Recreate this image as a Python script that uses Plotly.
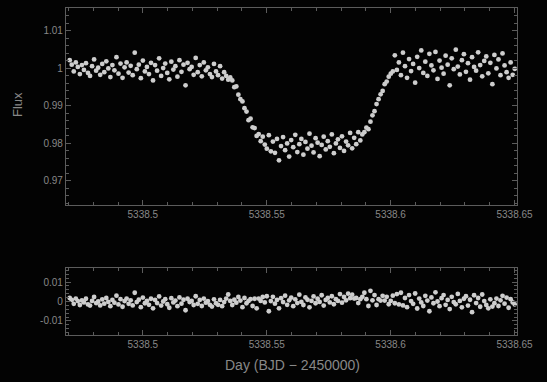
import numpy as np
import plotly.graph_objects as go

# ---- data ----
t_start = 5338.4705      # BJD - 2450000 of first exposure
cadence = 0.00082        # days between exposures

flux = [
    1.0022, 1.0010, 0.9992, 1.0016, 1.0004, 0.9985, 1.0009, 0.9996, 1.0014, 0.9988,
    0.9980, 1.0006, 1.0024, 0.9994, 1.0002, 0.9983, 1.0012, 0.9990, 1.0019, 1.0000,
    0.9977, 1.0009, 0.9995, 1.0030, 0.9986, 1.0013, 0.9975, 1.0003, 1.0016, 0.9989,
    1.0007, 0.9982, 1.0042, 0.9998, 1.0010, 0.9974, 1.0021, 0.9992, 1.0004, 0.9985,
    1.0015, 0.9968, 1.0009, 0.9994, 1.0027, 0.9980, 1.0001, 1.0013, 0.9988, 0.9971,
    1.0018, 0.9997, 1.0006, 0.9978, 1.0022, 0.9991, 1.0010, 0.9955, 1.0015, 0.9998,
    1.0004, 0.9983, 1.0028, 0.9990, 1.0009, 0.9979, 1.0016, 0.9995, 1.0003, 0.9985,
    0.9977, 1.0012, 0.9992, 0.9982, 1.0006, 0.9973, 0.9990, 0.9980, 0.9970,
    0.9976, 0.9968, 0.9950, 0.9952, 0.9930, 0.9918, 0.9912, 0.9894, 0.9885, 0.9862,
    0.9866, 0.9843, 0.9841, 0.9820, 0.9825, 0.9806,
    0.9818, 0.9797, 0.9786, 0.9822, 0.9779, 0.9805, 0.9775, 0.9812, 0.9755, 0.9793,
    0.9817, 0.9782, 0.9800, 0.9765, 0.9809, 0.9790, 0.9823, 0.9777, 0.9798, 0.9812,
    0.9770, 0.9804, 0.9786, 0.9826, 0.9794, 0.9776, 0.9814, 0.9802, 0.9766, 0.9796,
    0.9818, 0.9784, 0.9806, 0.9791, 0.9824, 0.9774, 0.9800, 0.9811, 0.9788, 0.9819,
    0.9780, 0.9805, 0.9795, 0.9828, 0.9787, 0.9815, 0.9798, 0.9830, 0.9808, 0.9824,
    0.9830, 0.9842, 0.9838, 0.9858, 0.9875, 0.9886, 0.9905, 0.9918, 0.9931, 0.9940,
    0.9958, 0.9965, 0.9978, 0.9986, 0.9992,
    1.0035, 0.9996, 1.0016, 0.9982, 1.0042, 1.0006, 0.9975, 1.0025, 0.9993, 1.0012,
    0.9962, 1.0031, 1.0001, 1.0048, 0.9988, 1.0018, 0.9980, 1.0039, 1.0008, 0.9995,
    1.0044, 0.9972, 1.0021, 1.0002, 0.9986, 1.0034, 1.0010, 0.9955, 1.0027, 0.9998,
    1.0050, 1.0005, 0.9984, 1.0022, 1.0038, 0.9991, 1.0014, 0.9970, 1.0030, 1.0004,
    0.9994, 1.0043, 1.0009, 0.9979, 1.0020, 1.0032, 0.9987, 1.0015, 0.9958, 1.0036,
    1.0000, 1.0024, 0.9982, 1.0040, 1.0008, 0.9990, 0.9975, 1.0016, 0.9983, 0.9999,
]

residual = [
    0.0018, 0.0008, -0.0012, 0.0015, 0.0002, -0.0018, 0.0006, -0.0005, 0.0014, -0.0015,
    -0.0021, 0.0003, 0.0023, -0.0008, 0.0000, -0.0020, 0.0011, -0.0011, 0.0018, -0.0002,
    -0.0024, 0.0008, -0.0006, 0.0030, -0.0015, 0.0012, -0.0027, 0.0002, 0.0015, -0.0012,
    0.0006, -0.0020, 0.0045, -0.0003, 0.0009, -0.0029, 0.0020, -0.0009, 0.0003, -0.0017,
    0.0014, -0.0035, 0.0008, -0.0008, 0.0026, -0.0021, 0.0000, 0.0012, -0.0014, -0.0032,
    0.0017, -0.0005, 0.0005, -0.0024, 0.0021, -0.0011, 0.0009, -0.0045, 0.0014, -0.0003,
    0.0003, -0.0018, 0.0027, -0.0012, 0.0008, -0.0023, 0.0015, -0.0006, 0.0002, -0.0017,
    -0.0026, 0.0011, -0.0009, -0.0017, 0.0008, -0.0024, -0.0003, 0.0015, 0.0036, 0.0003,
    -0.0018, 0.0009, -0.0006, 0.0023, 0.0005, -0.0029, 0.0018, -0.0009, 0.0003, 0.0012,
    -0.0023, 0.0014, -0.0035, 0.0015, 0.0003, 0.0023, -0.0005, 0.0027, -0.0050, 0.0002,
    0.0024, -0.0011, 0.0008, -0.0035, 0.0017, -0.0003, 0.0030, -0.0017, 0.0006, 0.0020,
    -0.0024, 0.0011, -0.0008, 0.0035, -0.0002, -0.0018, 0.0021, 0.0009, -0.0030, 0.0003,
    0.0026, -0.0009, 0.0014, -0.0002, 0.0032, -0.0021, 0.0008, 0.0018, -0.0005, 0.0027,
    -0.0014, 0.0012, 0.0003, 0.0038, -0.0006, 0.0023, 0.0006, 0.0040, 0.0017, 0.0035,
    0.0015, 0.0018, -0.0008, 0.0012, 0.0024, 0.0045, 0.0012, -0.0023, 0.0055, 0.0006,
    0.0033, -0.0018, 0.0012, 0.0005, 0.0029, 0.0005, 0.0024, -0.0014, 0.0003, 0.0030,
    -0.0009, 0.0038, -0.0015, 0.0045, -0.0020, 0.0018, -0.0029, 0.0033, 0.0002, -0.0012,
    0.0041, -0.0036, 0.0015, -0.0005, -0.0023, 0.0029, 0.0005, -0.0050, 0.0021, -0.0009,
    0.0047, 0.0000, -0.0024, 0.0017, 0.0033, -0.0017, 0.0008, -0.0039, 0.0024, -0.0003,
    -0.0014, 0.0039, 0.0003, -0.0030, 0.0014, 0.0027, -0.0021, 0.0009, -0.0055, 0.0032,
    -0.0008, 0.0018, -0.0027, 0.0036, 0.0002, -0.0018, -0.0035, 0.0011, -0.0026, -0.0009,
    0.0015, -0.0023, 0.0006, 0.0029, -0.0011, 0.0020, -0.0032, 0.0012, -0.0005, -0.0015,
]

x_tick_vals = [5338.5, 5338.55, 5338.6, 5338.65]
x_tick_text = ["5338.5", "5338.55", "5338.6", "5338.65"]
flux_tick_vals = [0.97, 0.98, 0.99, 1.0, 1.01]
flux_tick_text = ["0.97", "0.98", "0.99", "1", "1.01"]
res_tick_vals = [-0.01, 0.0, 0.01]
res_tick_text = ["-0.01", "0", "0.01"]

time = t_start + cadence * np.arange(len(flux))

W, H = 547, 382
BG = "#030303"
AX = "#5c5c5c"
TXT = "#888888"
PT = "#cdcdcd"
FONT = "Liberation Sans, Arial"

fig = go.Figure()
fig.add_trace(go.Scatter(x=time, y=flux, mode="markers", xaxis="x", yaxis="y",
                         marker=dict(size=4.8, color=PT), showlegend=False))
fig.add_trace(go.Scatter(x=time, y=residual, mode="markers", xaxis="x2", yaxis="y2",
                         marker=dict(size=4.8, color=PT), showlegend=False))

xl, xr = 66 / W, 517 / W
top_dom = [1 - 205 / H, 1 - 8 / H]
bot_dom = [1 - 335 / H, 1 - 268 / H]
xrange_ = [5338.4690, 5338.6510]

common_x = dict(range=xrange_, tickvals=x_tick_vals, ticktext=x_tick_text,
                ticks="inside", ticklen=5, tickcolor=AX, showline=True, linecolor=AX,
                linewidth=1.2, mirror="ticks", showgrid=False, zeroline=False,
                tickfont=dict(family=FONT, size=10, color=TXT),
                minor=dict(dtick=0.01, tick0=5338.5, ticks="inside", ticklen=3, tickcolor=AX),
                automargin=False)
common_y = dict(ticks="inside", ticklen=5, tickcolor=AX, showline=True, linecolor=AX,
                linewidth=1.2, mirror="ticks", showgrid=False, zeroline=False,
                tickfont=dict(family=FONT, size=10, color=TXT),
                automargin=False)

fig.update_layout(
    width=W, height=H,
    margin=dict(l=0, r=0, t=0, b=0),
    paper_bgcolor=BG, plot_bgcolor=BG,
    xaxis=dict(domain=[xl, xr], anchor="y", **common_x),
    yaxis=dict(domain=top_dom, anchor="x", range=[0.9636, 1.0161],
               tickvals=flux_tick_vals, ticktext=flux_tick_text,
               minor=dict(dtick=0.002, tick0=0.97, ticks="inside", ticklen=3, tickcolor=AX),
               **common_y),
    xaxis2=dict(domain=[xl, xr], anchor="y2", **common_x),
    yaxis2=dict(domain=bot_dom, anchor="x2", range=[-0.0172, 0.0172],
                tickvals=res_tick_vals, ticktext=res_tick_text,
                minor=dict(dtick=0.002, tick0=0.0, ticks="inside", ticklen=3, tickcolor=AX),
                **common_y),
    annotations=[
        dict(text="Flux", xref="paper", yref="paper", x=18 / W, y=1 - 105 / H,
             xanchor="center", yanchor="middle",
             textangle=-90, showarrow=False,
             font=dict(family=FONT, size=13, color=TXT)),
        dict(text="Day (BJD \u2212 2450000)", xref="paper", yref="paper",
             x=292 / W, y=1 - 365 / H, xanchor="center", yanchor="middle",
             showarrow=False,
             font=dict(family=FONT, size=14, color=TXT)),
    ],
)

fig.write_html("out.html", config={"displayModeBar": False},
               post_script="document.body.style.margin='0';document.body.style.background='#030303';")
